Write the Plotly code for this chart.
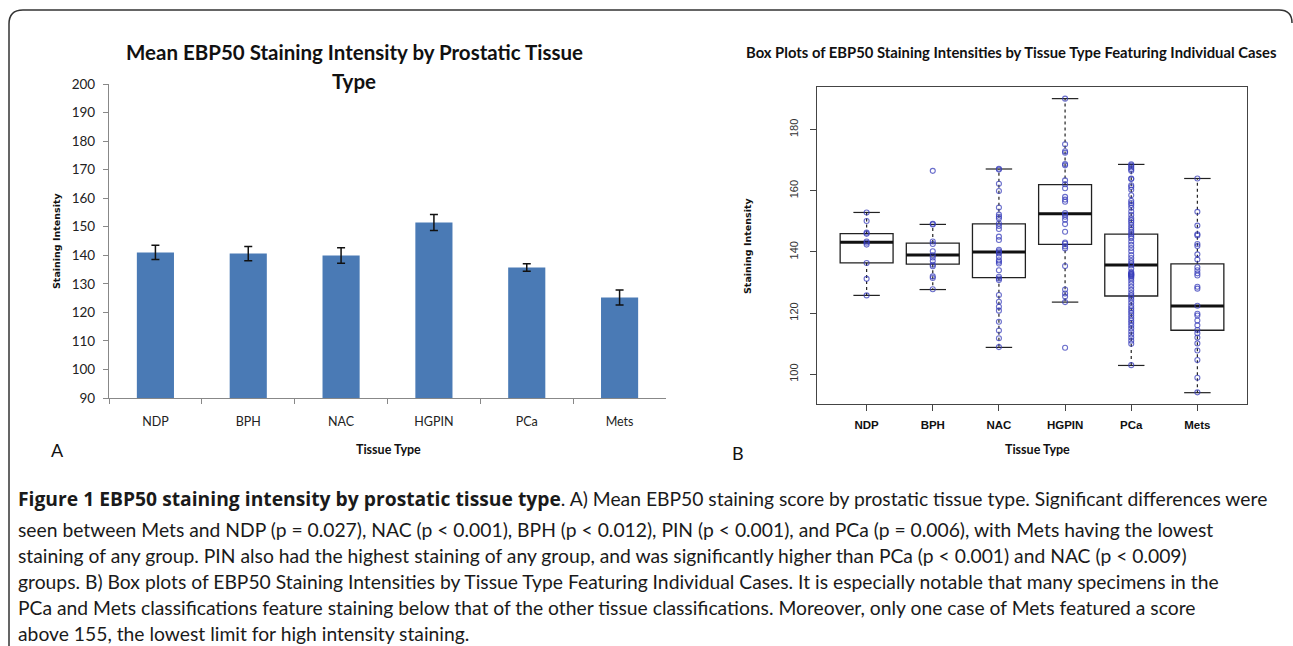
import plotly.graph_objects as go

W, H = 1293, 646

# ---------------- data ----------------
tissue_types = ["NDP", "BPH", "NAC", "HGPIN", "PCa", "Mets"]

# Panel A: mean staining intensity and error
mean_intensity = [141.0, 140.6, 139.9, 151.5, 135.7, 125.2]
mean_error = [2.5, 2.5, 2.7, 2.8, 1.3, 2.6]

# Panel B: box statistics
box_q1 = [136.4, 136.0, 131.6, 142.5, 125.6, 114.4]
box_median = [143.2, 139.0, 140.0, 152.5, 135.7, 122.3]
box_q3 = [146.0, 142.9, 149.2, 162.0, 145.8, 136.1]
whisker_low = [125.8, 127.7, 108.8, 123.6, 102.9, 94.0]
whisker_high = [152.9, 149.0, 167.1, 190.1, 168.6, 164.0]

# Panel B: individual cases
cases_ndp = [152.9, 150.1, 146.3, 145.9, 143.4, 143.0, 142.4, 136.4, 131.2, 125.8]
cases_bph = [166.5, 149.2, 149.0, 143.4, 142.6, 140.2, 138.9, 138.2, 137.0, 135.8,
             135.3, 132.0, 131.5, 127.8]
cases_nac = [167.2, 166.9, 162.3, 159.9, 154.5, 152.2, 151.5, 150.9, 149.3, 148.5,
             147.5, 145.0, 143.9, 140.7, 140.2, 139.8, 139.5, 138.4, 137.3, 136.8,
             136.2, 134.0, 131.9, 131.3, 130.8, 125.9, 123.7, 122.1, 120.8, 117.2,
             114.3, 111.8, 108.9]
cases_hgpin = [190.1, 175.2, 172.9, 172.4, 168.7, 168.3, 163.4, 162.1, 160.8, 158.0,
               157.1, 156.4, 152.7, 152.2, 151.5, 150.5, 149.1, 146.6, 143.1, 142.7,
               141.8, 141.1, 135.4, 127.7, 126.4, 125.4, 123.6, 108.7]
cases_pca = [168.6, 168.2, 167.6, 167.0, 166.5, 164.0, 163.8, 161.8, 161.2, 160.3,
             158.5, 156.7, 156.0, 155.3, 154.4, 153.2, 152.1, 151.0, 150.3, 149.6,
             148.8, 148.0, 147.2, 146.4, 145.8, 145.1, 144.5, 143.4, 142.3, 141.3,
             140.2, 139.0, 138.0, 137.0, 136.2, 135.6, 134.6, 133.4, 133.0, 132.8,
             132.6, 132.4, 132.2, 131.9, 131.4, 130.6, 129.6, 128.6, 127.6, 126.6,
             125.8, 125.2, 124.4, 123.4, 122.4, 121.6, 120.8, 120.0, 119.2, 118.4,
             117.6, 116.8, 115.9, 115.0, 114.0, 113.0, 112.0, 111.0, 110.0, 103.0]
cases_mets = [164.0, 153.1, 148.6, 145.8, 145.4, 142.6, 141.9, 139.2, 137.5, 135.0,
              134.0, 133.0, 132.3, 128.6, 128.0, 122.4, 119.8, 119.2, 117.6, 116.0,
              114.5, 113.4, 112.0, 110.1, 107.8, 104.7, 98.9, 94.1]
all_cases = [cases_ndp, cases_bph, cases_nac, cases_hgpin, cases_pca, cases_mets]

caption_bold = "Figure 1 EBP50 staining intensity by prostatic tissue type"
caption_lines = [
    ". A) Mean EBP50 staining score by prostatic tissue type. Significant differences were",
    "seen between Mets and NDP (p = 0.027), NAC (p < 0.001), BPH (p < 0.012), PIN (p < 0.001), and PCa (p = 0.006), with Mets having the lowest",
    "staining of any group. PIN also had the highest staining of any group, and was significantly higher than PCa (p < 0.001) and NAC (p < 0.009)",
    "groups. B) Box plots of EBP50 Staining Intensities by Tissue Type Featuring Individual Cases. It is especially notable that many specimens in the",
    "PCa and Mets classifications feature staining below that of the other tissue classifications. Moreover, only one case of Mets featured a score",
    "above 155, the lowest limit for high intensity staining.",
]


def px(x):
    return x / W


def py(y):
    return 1 - y / H


fig = go.Figure()

# ---------------- Panel A ----------------
fig.add_trace(go.Bar(
    x=tissue_types, y=mean_intensity, width=0.4,
    marker=dict(color="#4a7ab5", line=dict(width=0)),
    error_y=dict(type="data", array=mean_error, color="#111", thickness=1.5, width=4),
    xaxis="x", yaxis="y", showlegend=False, hoverinfo="skip",
))

# ---------------- Panel B ----------------
idx = list(range(len(tissue_types)))
fig.add_trace(go.Box(
    x=idx, q1=box_q1, median=box_median, q3=box_q3,
    lowerfence=box_q1, upperfence=box_q3, width=0.8, whiskerwidth=0,
    line=dict(color="#222", width=1.3), fillcolor="rgba(255,255,255,0)",
    boxpoints=False, xaxis="x2", yaxis="y2", showlegend=False, hoverinfo="skip",
))

wx, wy = [], []
cx, cy = [], []
mx, my = [], []
for i in idx:
    wx += [i, i, None, i, i, None]
    wy += [box_q3[i], whisker_high[i], None, box_q1[i], whisker_low[i], None]
    cx += [i - 0.2, i + 0.2, None, i - 0.2, i + 0.2, None]
    cy += [whisker_high[i], whisker_high[i], None, whisker_low[i], whisker_low[i], None]
    mx += [i - 0.4, i + 0.4, None]
    my += [box_median[i], box_median[i], None]

fig.add_trace(go.Scatter(x=wx, y=wy, mode="lines", line=dict(color="#222", width=1.2, dash="dot"),
                         xaxis="x2", yaxis="y2", showlegend=False, hoverinfo="skip"))
fig.add_trace(go.Scatter(x=cx, y=cy, mode="lines", line=dict(color="#222", width=1.2),
                         xaxis="x2", yaxis="y2", showlegend=False, hoverinfo="skip"))
fig.add_trace(go.Scatter(x=mx, y=my, mode="lines", line=dict(color="#111", width=3),
                         xaxis="x2", yaxis="y2", showlegend=False, hoverinfo="skip"))

px_pts, py_pts = [], []
for i, vals in enumerate(all_cases):
    px_pts += [i] * len(vals)
    py_pts += vals
fig.add_trace(go.Scatter(
    x=px_pts, y=py_pts, mode="markers",
    marker=dict(symbol="circle-open", size=5, color="rgba(55,60,185,0.75)", line=dict(width=1.1)),
    xaxis="x2", yaxis="y2", showlegend=False, hoverinfo="skip",
))

# ---------------- layout ----------------
fig.update_layout(
    template="none",
    width=W, height=H, autosize=False,
    margin=dict(l=0, r=0, t=0, b=0, pad=0, autoexpand=False),
    paper_bgcolor="white", plot_bgcolor="white",
    xaxis=dict(domain=[px(109), px(666)], anchor="y", type="category", automargin=False,
               range=[-0.5, 5.5], tickson="boundaries", ticks="outside", ticklen=5,
               tickcolor="#888", showline=True, linecolor="#888", linewidth=1.2,
               showgrid=False, zeroline=False,
               tickfont=dict(family="Lato", size=12.5, color="#222"),
               ticklabelstandoff=12),
    yaxis=dict(domain=[py(398), py(84)], anchor="x", range=[90, 200], dtick=10,
               automargin=False,
               ticks="outside", ticklen=5, tickcolor="#888", showline=True,
               linecolor="#888", linewidth=1.2, showgrid=False, zeroline=False,
               tickfont=dict(family="Lato", size=13.5, color="#222"),
               ticklabelstandoff=5),
    xaxis2=dict(domain=[px(817), px(1247)], anchor="y2", range=[-0.75, 5.75],
                automargin=False,
                tickvals=idx, ticktext=tissue_types, ticks="outside", ticklen=6,
                tickcolor="#444", showline=True, mirror=True, linecolor="#444",
                linewidth=1.2, showgrid=False, zeroline=False,
                tickfont=dict(family="Liberation Sans", size=11.5, color="#111", weight="bold"),
                ticklabelstandoff=4),
    yaxis2=dict(domain=[py(404), py(87)], anchor="x2", range=[90.3, 193.9],
                automargin=False,
                tickvals=[100, 120, 140, 160, 180], ticks="outside", ticklen=6,
                tickcolor="#444", showline=True, mirror=True, linecolor="#444",
                linewidth=1.2, showgrid=False, zeroline=False, tickangle=-90,
                tickfont=dict(family="Liberation Sans", size=11, color="#333"),
                ticklabelstandoff=8),
)

ann = []


def add_text(text, x, y, size, bold=False, family="Lato", color="#111", angle=0,
             xanchor="center"):
    ann.append(dict(text=text, x=px(x), y=py(y), xref="paper", yref="paper",
                    showarrow=False, xanchor=xanchor, yanchor="middle", textangle=angle,
                    font=dict(family=family, size=size, color=color,
                              weight="bold" if bold else "normal")))


# Panel A texts
add_text("Mean EBP50 Staining Intensity by Prostatic Tissue", 354, 52, 20.5, bold=True)
add_text("Type", 354, 81, 20.5, bold=True)
add_text("Staining Intensity", 57, 241, 9.5, bold=True, family="DejaVu Sans", angle=-90)
add_text("Tissue Type", 388, 449, 12.5, bold=True)
add_text("A", 57, 450, 18, family="Lato")

# Panel B texts
add_text("Box Plots of EBP50 Staining Intensities by Tissue Type Featuring Individual Cases",
         1011, 52, 14.8, bold=True)
add_text("Staining Intensity", 748, 246, 9.5, bold=True, family="DejaVu Sans", angle=-90)
add_text("Tissue Type", 1037, 449, 12.5, bold=True)
add_text("B", 738, 453, 18, family="Lato")

# Caption
cap_y = [498, 529, 555, 581, 607, 633]
for k, line in enumerate(caption_lines):
    if k == 0:
        txt = ("<b><span style='font-family:Open Sans'>" + caption_bold + "</span></b>" + line)
    else:
        txt = line
    add_text(txt, 16, cap_y[k], 19.3, family="Lato", color="#1a1a1a", xanchor="left")

fig.update_layout(annotations=ann)

# Rounded frame (open at bottom)
frame_path = (f"M {px(9)},{py(646)} L {px(9)},{py(24)} Q {px(9)},{py(10)} {px(23)},{py(10)} "
              f"L {px(1279)},{py(10)} Q {px(1292)},{py(10)} {px(1292)},{py(23)}")
fig.add_shape(type="path", path=frame_path, xref="paper", yref="paper",
              line=dict(color="#333", width=1.5))

fig.write_html("out.html", config={"displayModeBar": False},
               post_script="document.body.style.margin='0';")
